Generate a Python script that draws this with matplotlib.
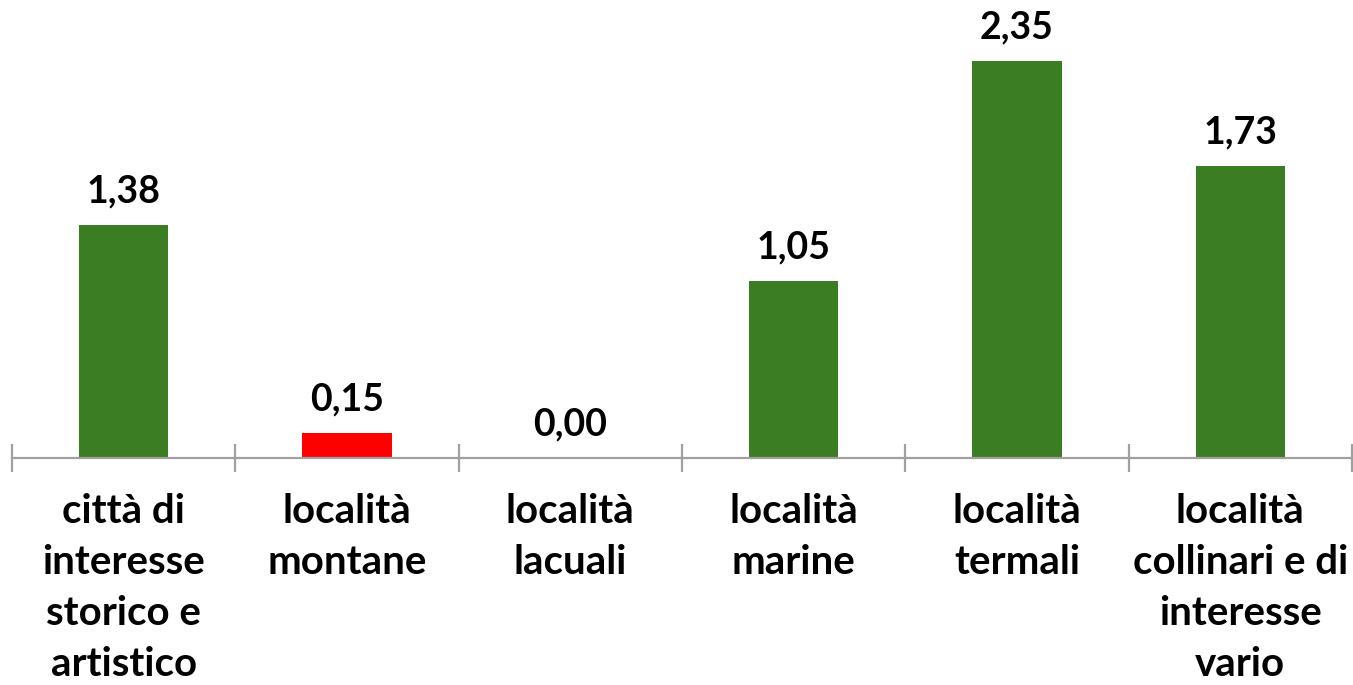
import matplotlib
matplotlib.use("Agg")
import matplotlib.pyplot as plt
from matplotlib.ticker import FixedLocator

categories = ["città di\ninteresse\nstorico e\nartistico", "località\nmontane", "località\nlacuali",
              "località\nmarine", "località\ntermali", "località\ncollinari e di\ninteresse\nvario"]
values = [1.38, 0.15, 0.00, 1.05, 2.35, 1.73]
labels = ["1,38", "0,15", "0,00", "1,05", "2,35", "1,73"]
colors = ["#3B7D23", "#FF0000", "#3B7D23", "#3B7D23", "#3B7D23", "#3B7D23"]

W, H = 1353, 685
fig = plt.figure(figsize=(W/100, H/100), dpi=100)
ymax = 2.6
ppu = 169.0
y0 = 458
ax = fig.add_axes([12/W, (H - y0)/H, (1352-12)/W, ymax*ppu/H])
ax.set_xlim(-0.5, 5.5)
ax.set_ylim(0, ymax)

x = list(range(len(values)))
bars = ax.bar(x, values, width=0.4, color=colors)

font = "Lato"
for xi, v, lab in zip(x, values, labels):
    ax.annotate(lab, (xi, v), xytext=(0, 16), textcoords="offset points",
                ha="center", va="baseline", fontsize=27, fontweight="bold",
                family=font, color="black")

for s in ["top", "right", "left"]:
    ax.spines[s].set_visible(False)
ax.spines["bottom"].set_color("#A0A0A0")
ax.spines["bottom"].set_linewidth(1.6)
ax.set_yticks([])
ax.set_xticks(x)
ax.set_xticklabels([])
ax.tick_params(axis="x", which="major", length=0)
ax.xaxis.set_minor_locator(FixedLocator([i - 0.5 for i in range(len(values) + 1)]))
ax.tick_params(axis="x", which="minor", direction="inout", length=20, width=1.6, color="#A0A0A0")

for xi, cat in zip(x, categories):
    ax.annotate(cat, (xi, 0), xytext=(0, -25), textcoords="offset points",
                ha="center", va="top", fontsize=29, fontweight="bold",
                family=font, color="black", linespacing=1.47, annotation_clip=False)

fig.savefig("out.png", dpi=100)
